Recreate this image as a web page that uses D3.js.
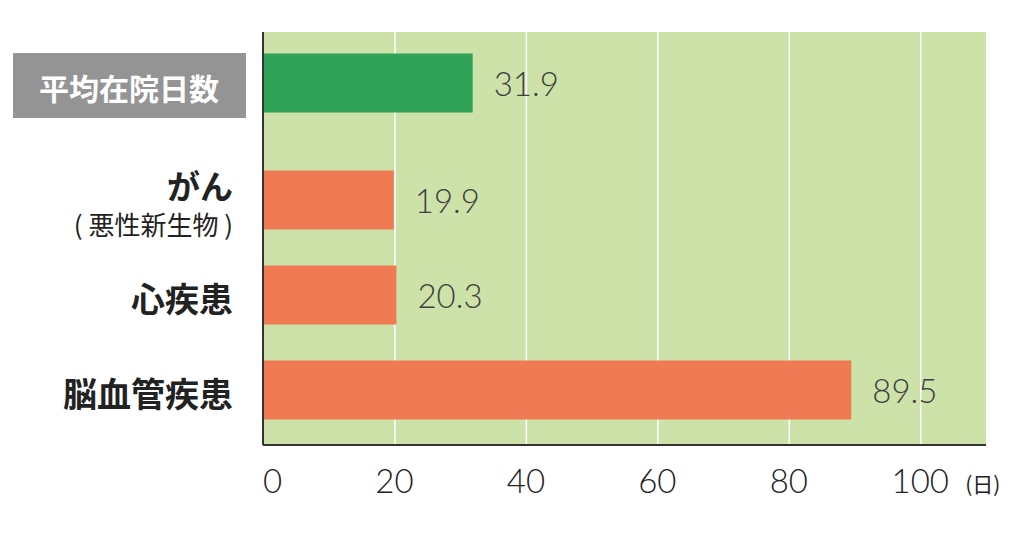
<html>
<head>
<script src="https://d3js.org/d3.v7.min.js"></script>
<style>
  body { margin: 0; background: #fff; }
  .num { font-family: Lato, "Open Sans", sans-serif; font-weight: 300; fill: #333; }
  .jp { font-family: "Noto Sans CJK JP", sans-serif; fill: #222; }
</style>
</head>
<body>
<svg id="chart" width="1024" height="534"></svg>
<script>
// data
const categories = ["平均在院日数", "がん", "心疾患", "脳血管疾患"];
const subLabels = ["", "( 悪性新生物 )", "", ""];
const values = [31.9, 19.9, 20.3, 89.5];
const barKind = ["average", "disease", "disease", "disease"];
const xTicks = [0, 20, 40, 60, 80, 100];
const unitLabel = "(日)";

const svg = d3.select("#chart");
const margins = { top: 32, right: 38, bottom: 89, left: 263 };
const width = +svg.attr("width"), height = +svg.attr("height");
const chartWidth = width - margins.left - margins.right;
const chartHeight = height - margins.top - margins.bottom;

const x = d3.scaleLinear().domain([0, 110]).range([0, chartWidth]);

// rows: first row sits alone, a bigger gap before the disease rows
const firstGap = 22;
const y = d3.scaleBand().domain(categories).range([0, chartHeight - firstGap]).paddingInner(0.379).paddingOuter(0.2475);
function rowY(c, i) { return y(c) + (i > 0 ? firstGap : 0) - 2; }

const colors = { average: "#2ea257", disease: "#ef7a53" };

const g = svg.append("g").attr("transform", "translate(" + margins.left + "," + margins.top + ")");

g.append("rect")
  .attr("x", 0).attr("y", 0)
  .attr("width", chartWidth).attr("height", chartHeight)
  .attr("fill", "#cde2a9");

// gridlines
g.append("g")
  .attr("transform", "translate(0," + chartHeight + ")")
  .call(d3.axisBottom(x).tickValues(xTicks.slice(1)).tickSize(-chartHeight).tickFormat(""))
  .call(s => s.select(".domain").remove())
  .call(s => s.selectAll("line").attr("stroke", "#fff").attr("stroke-width", 1.5));

// bars
categories.forEach((c, i) => {
  g.append("rect")
    .attr("x", 0)
    .attr("y", rowY(c, i))
    .attr("width", x(values[i]))
    .attr("height", y.bandwidth())
    .attr("fill", colors[barKind[i]]);

  g.append("text")
    .attr("class", "num")
    .attr("x", x(values[i]) + 21)
    .attr("y", rowY(c, i) + y.bandwidth() / 2)
    .attr("dominant-baseline", "central")
    .attr("font-size", 33)
    .style("fill", "#404040")
    .text(values[i].toFixed(1));
});

// axis lines
g.append("line").attr("x1", 0).attr("x2", 0).attr("y1", 0).attr("y2", chartHeight)
  .attr("stroke", "#333").attr("stroke-width", 2);
g.append("line").attr("x1", 0).attr("x2", chartWidth).attr("y1", chartHeight).attr("y2", chartHeight)
  .attr("stroke", "#333").attr("stroke-width", 2);

// tick labels
g.append("g")
  .selectAll("text")
  .data(xTicks)
  .join("text")
  .attr("class", "num")
  .attr("x", d => x(d))
  .attr("y", chartHeight + 35)
  .attr("text-anchor", d => d === 0 ? "start" : "middle")
  .attr("dominant-baseline", "central")
  .attr("font-size", 33)
  .style("fill", "#222")
  .text(d => d);

g.append("text")
  .attr("class", "jp")
  .attr("x", x(100) + 45)
  .attr("y", chartHeight + 38)
  .attr("dominant-baseline", "central")
  .attr("font-size", 21)
  .attr("fill", "#333")
  .text(unitLabel);

// category labels
const labelX = -30;
categories.forEach((c, i) => {
  const cy = rowY(c, i) + y.bandwidth() / 2;
  if (i === 0) {
    svg.append("rect")
      .attr("x", 13).attr("y", margins.top + cy - 30)
      .attr("width", 233).attr("height", 65)
      .attr("fill", "#949494");
    svg.append("text")
      .attr("class", "jp")
      .attr("x", 129).attr("y", margins.top + cy + 4)
      .attr("text-anchor", "middle")
      .attr("dominant-baseline", "central")
      .attr("font-size", 30).attr("font-weight", "bold")
      .style("fill", "#fff")
      .text(c);
  } else if (subLabels[i]) {
    g.append("text")
      .attr("class", "jp")
      .attr("x", labelX).attr("y", cy - 15)
      .attr("text-anchor", "end")
      .attr("dominant-baseline", "central")
      .attr("font-size", 33).attr("font-weight", "bold")
      .text(c);
    g.append("text")
      .attr("class", "jp")
      .attr("x", labelX).attr("y", cy + 23)
      .attr("text-anchor", "end")
      .attr("dominant-baseline", "central")
      .attr("font-size", 26)
      .text(subLabels[i]);
  } else {
    g.append("text")
      .attr("class", "jp")
      .attr("x", labelX).attr("y", cy + 3)
      .attr("text-anchor", "end")
      .attr("dominant-baseline", "central")
      .attr("font-size", 34).attr("font-weight", "bold")
      .text(c);
  }
});
</script>
</body>
</html>
